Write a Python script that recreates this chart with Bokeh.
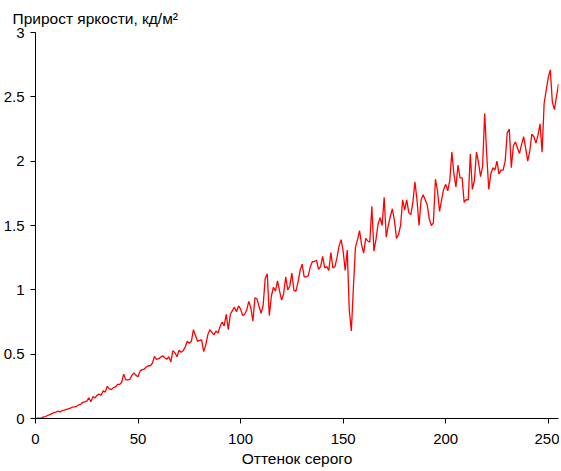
from bokeh.plotting import figure
from bokeh.models import Range1d, FixedTicker, Title
from bokeh.embed import file_html
from bokeh.resources import INLINE

# ---- data ----
title_text = "Прирост яркости, кд/м²"
x_label = "Оттенок серого"
x_ticks = [0, 50, 100, 150, 200, 250]
y_ticks = [0, 0.5, 1, 1.5, 2, 2.5, 3]
y_tick_labels = ["0", "0.5", "1", "1.5", "2", "2.5", "3"]

gray = list(range(256))
increment = [
    0.0, 0.002, 0.003, 0.005, 0.012, 0.015, 0.025, 0.03, 0.038, 0.045,
    0.05, 0.058, 0.05, 0.062, 0.065, 0.07, 0.075, 0.08, 0.088, 0.09,
    0.095, 0.105, 0.11, 0.125, 0.13, 0.135, 0.16, 0.13, 0.17, 0.16,
    0.18, 0.19, 0.18, 0.215, 0.205, 0.25, 0.23, 0.225, 0.24, 0.245,
    0.265, 0.265, 0.28, 0.345, 0.3, 0.3, 0.305, 0.335, 0.355, 0.335,
    0.325, 0.37,
    0.38, 0.383, 0.40, 0.41, 0.41, 0.43, 0.482, 0.46, 0.465, 0.475,
    0.487, 0.472, 0.46, 0.48, 0.44, 0.528, 0.51, 0.48, 0.53, 0.515,
    0.527, 0.555, 0.60, 0.585, 0.60, 0.69, 0.645, 0.60, 0.608, 0.61,
    0.52, 0.57, 0.65, 0.69, 0.67, 0.65, 0.68, 0.665, 0.715, 0.75,
    0.72, 0.81, 0.69, 0.81, 0.838, 0.865, 0.83, 0.875, 0.85, 0.80,
    0.81,
    0.845, 0.91, 0.86, 0.757, 0.938, 0.93, 0.87, 0.818, 0.88, 1.09,
    1.124, 0.80, 0.95, 1.02, 0.99, 1.07, 0.99, 0.92, 0.97, 1.10,
    1.0, 1.03, 1.13, 0.995, 0.99, 1.06, 1.15, 1.20, 1.10, 1.10,
    1.11, 1.18, 1.22, 1.22, 1.23, 1.16, 1.18, 1.26, 1.17, 1.18,
    1.15, 1.29, 1.17, 1.18, 1.25, 1.34, 1.39, 1.30, 1.15, 1.31,
    0.84, 0.68, 1.02,
    1.33, 1.39, 1.46, 1.35, 1.285, 1.40, 1.38, 1.37, 1.65, 1.30,
    1.39, 1.51, 1.56, 1.50, 1.72, 1.41, 1.50, 1.57, 1.63, 1.54,
    1.40, 1.43, 1.50, 1.70, 1.62, 1.70, 1.60, 1.585, 1.68, 1.84,
    1.70, 1.50, 1.70, 1.74, 1.70, 1.66, 1.55, 1.50, 1.52, 1.86,
    1.77, 1.61, 1.70, 1.78, 1.82, 1.77, 1.85, 2.07, 1.90, 1.80,
    1.97, 1.87, 1.87, 1.68, 1.70, 1.70, 2.056, 1.78, 1.85, 2.07,
    1.99, 1.88, 1.96, 2.37, 2.05, 1.78, 1.90, 1.95, 1.93, 2.0,
    1.90, 1.93, 1.93, 2.00, 2.22, 2.25, 1.95, 2.12, 2.15, 2.10,
    2.06, 2.13, 2.19, 2.10, 2.00, 2.08, 2.21, 2.19, 2.14, 2.20,
    2.29, 2.07, 2.45, 2.55, 2.65, 2.71, 2.46, 2.40, 2.50, 2.60,
]

FONT = "Liberation Sans"

p = figure(width=559, height=471, output_backend="svg", toolbar_location=None,
           x_range=Range1d(0, 255), y_range=Range1d(0, 3),
           min_border_left=35, min_border_right=1, min_border_top=32,
           min_border_bottom=53, title=None)

p.add_layout(Title(text=title_text, align="left", offset=-23,
                   text_font=FONT, text_font_size="15.5px", text_font_style="normal",
                   text_color="black", standoff=12), "above")

p.line(gray, increment, line_color="#ff0000", line_width=1.3)

p.grid.visible = False
p.outline_line_color = None
p.background_fill_color = "white"
p.border_fill_color = "white"

for ax in (p.xaxis[0], p.yaxis[0]):
    ax.axis_line_color = "black"
    ax.major_tick_line_color = "black"
    ax.minor_tick_line_color = None
    ax.major_tick_in = 0
    ax.major_tick_out = 5
    ax.major_label_text_font = FONT
    ax.major_label_text_font_size = "15px"
    ax.major_label_text_color = "black"

p.xaxis[0].major_label_standoff = 10
p.yaxis[0].major_label_standoff = 6

p.xaxis[0].ticker = FixedTicker(ticks=x_ticks)
p.yaxis[0].ticker = FixedTicker(ticks=y_ticks)
p.yaxis[0].major_label_overrides = {t: s for t, s in zip(y_ticks, y_tick_labels)}

p.xaxis[0].axis_label = x_label
p.xaxis[0].axis_label_text_font = FONT
p.xaxis[0].axis_label_text_font_size = "15.5px"
p.xaxis[0].axis_label_text_font_style = "normal"
p.xaxis[0].axis_label_text_color = "black"
p.xaxis[0].axis_label_standoff = 3

open("out.html", "w").write(file_html(p, INLINE))
